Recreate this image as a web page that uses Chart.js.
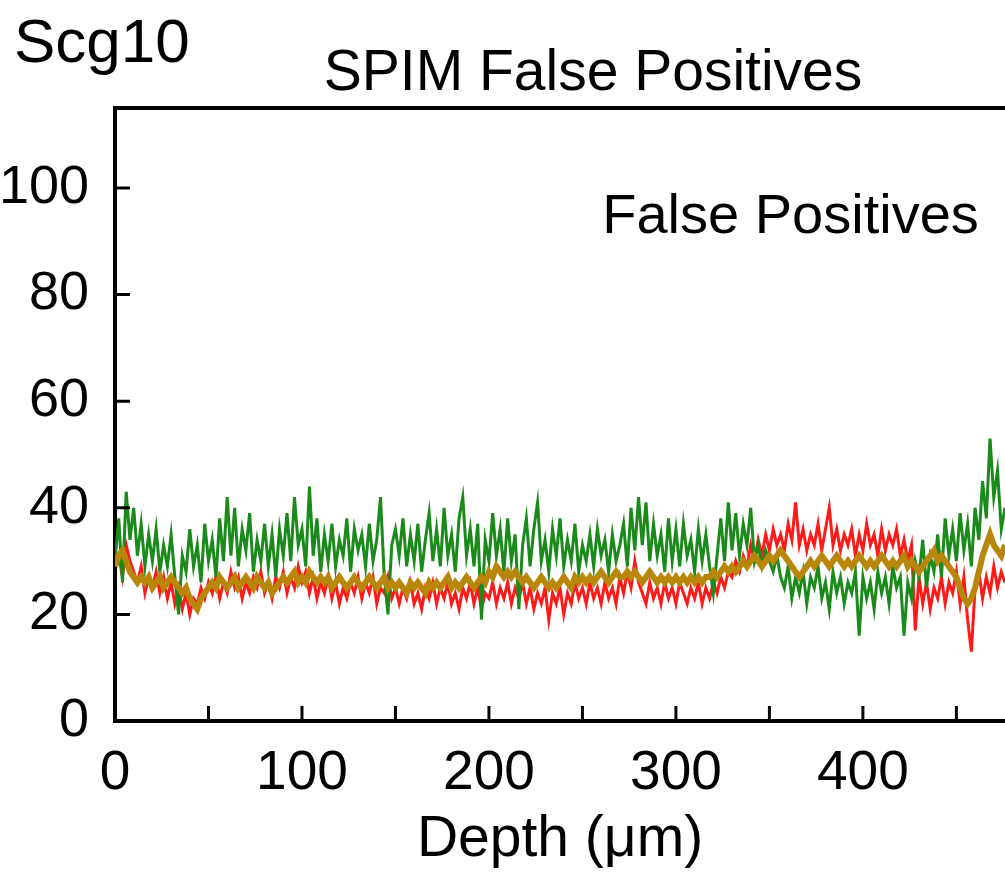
<!DOCTYPE html>
<html>
<head>
  <title>Scg10 SPIM False Positives</title>
  <script src="https://cdn.jsdelivr.net/npm/chart.js"></script>
  <style>
    body {
      margin: 0;
      background: white;
    }
    #wrap {
      width: 1005px;
      height: 878px;
      overflow: hidden;
    }
  </style>
</head>
<body>

  <div id="wrap">
    <canvas id="fpChart" width="1005" height="878"></canvas>
  </div>

  <script>
    // sampled every 2 um of depth
    const depthStep = 2;

    const greenFP = [
      30, 38, 26, 43, 34, 40,
      31, 37, 29, 35, 30, 36, 28, 33, 29, 35,
      27, 20, 31, 28, 36, 29, 33, 26, 37, 30,
      34, 27, 38, 30, 42, 31, 40, 29, 36, 32,
      39, 28, 34, 30, 37, 29, 35, 27, 36, 31,
      39, 30, 42, 33, 36, 29, 44, 31, 38, 28,
      35, 30, 37, 29, 34, 31, 38, 28, 36, 32,
      35, 29, 37, 30, 34, 42, 27, 20, 33, 36,
      31, 38, 29, 35, 30, 37, 28, 34, 39, 30,
      36, 29, 40, 31, 35, 28, 38, 42, 31, 36,
      29, 37, 19, 34, 30, 39, 31, 36, 28, 38,
      30, 35, 21, 33, 38, 29, 36, 41, 30, 34,
      28, 36, 31, 38, 29, 34, 30, 37, 28, 33,
      30, 35, 29, 36, 31, 34, 28, 35, 30, 33,
      37, 29, 40, 32, 42, 33, 41, 30, 37, 31,
      35, 28, 38, 30, 36, 29, 37, 31, 34, 28,
      36, 30, 35, 29, 24, 31, 38, 30, 41, 32,
      39, 31, 37, 33, 40, 30, 33, 29, 32, 30,
      28, 31, 27, 25, 29, 23, 27, 24, 28, 22,
      27, 25, 29, 23, 26, 21, 28, 24, 27, 22,
      26, 24, 28, 16, 27, 23, 26, 21, 28, 24,
      27, 22, 29, 25, 27, 16, 26, 23, 30, 27,
      34, 25, 31, 28, 35, 27, 38, 31, 36, 30,
      39, 32, 37, 29, 40, 34, 45, 38, 53, 42,
      47, 36, 40
    ];

    const redFP = [
      29, 31, 27, 33, 30, 28,
      26, 29, 24, 27, 25, 28, 24, 27, 23, 26,
      22, 25, 21, 24, 20, 23, 22, 25, 23, 26,
      24, 27, 23, 26, 24, 28, 25, 27, 23, 26,
      24, 27, 25, 28, 24, 26, 23, 27, 25, 28,
      24, 27, 25, 29, 26, 28, 24, 27, 23, 26,
      24, 27, 23, 26, 22, 25, 23, 26, 24, 27,
      23, 26, 24, 27, 22, 25, 24, 27, 23, 25,
      22, 25, 23, 26, 22, 24, 21, 25, 23, 26,
      22, 25, 23, 26, 22, 24, 21, 25, 23, 26,
      22, 25, 21, 24, 23, 26, 22, 25, 23, 26,
      22, 25, 23, 26, 22, 25, 21, 24, 22, 25,
      19, 24, 22, 25, 20, 24, 22, 26, 23, 25,
      22, 26, 23, 25, 22, 26, 23, 25, 22, 27,
      24, 28, 25, 30, 26, 24, 22, 26, 23, 25,
      22, 26, 23, 25, 22, 26, 24, 22, 25, 23,
      26, 22, 25, 23, 26, 24, 27, 25, 28, 27,
      30, 28, 31, 29, 33, 30, 34, 31, 35, 32,
      36, 33, 35, 32, 37, 34, 41, 33, 36, 32,
      35, 33, 37, 32, 36, 40, 33, 36, 32, 35,
      33, 36, 31, 35, 32, 37, 33, 35, 31, 36,
      32, 35, 33, 36, 31, 34, 30, 33, 17, 27,
      22, 26, 21, 25, 23, 27, 22, 26, 24, 28,
      22, 27, 19, 13, 25, 28, 23, 27, 24, 29,
      25, 28, 26
    ];

    const goldFP = [
      29, 31, 32, 30, 28, 27,
      26, 27, 26, 27, 25, 26, 27, 25, 26, 27,
      26, 25, 24, 25, 23, 22, 21, 23, 24, 25,
      26, 25, 27, 26, 25, 26, 27, 25, 26, 27,
      26, 25, 27, 26, 25, 26, 24, 25, 26, 27,
      26, 27, 28, 26, 27, 26, 28, 27, 26, 27,
      26, 27, 25, 26, 27, 26, 25, 26, 27, 26,
      25, 26, 27, 26, 25, 26, 27, 25, 26, 25,
      26, 25, 24, 26, 25, 26, 25, 24, 26, 25,
      26, 25, 26, 27, 25, 26, 25, 26, 27, 26,
      25, 26, 27, 26, 28, 27, 29, 28, 27, 28,
      27, 28, 27, 26, 27, 26, 25, 26, 27, 26,
      25, 26, 25, 26, 27, 26, 25, 27, 26, 27,
      26, 27, 26, 27, 28, 27, 26, 27, 28, 27,
      27, 28, 27, 28, 27, 26, 27, 28, 27, 26,
      27, 26, 27, 26, 27, 26, 27, 26, 27, 26,
      27, 26, 27, 27, 28, 27, 28, 29, 28, 29,
      28, 29, 30, 29, 30, 31, 30, 29, 30, 31,
      30, 31, 32, 31, 30, 29, 28, 27, 28, 29,
      30, 29, 30, 31, 30, 29, 30, 31, 30, 29,
      30, 29, 30, 31, 30, 29, 30, 29, 30, 31,
      30, 29, 30, 29, 30, 31, 29, 30, 29, 28,
      29, 30, 31, 32, 30, 31, 30, 29, 28, 27,
      25, 23, 22, 23, 25, 28, 31, 33, 35, 33,
      32, 31, 33
    ];

    const yTicks = [0, 20, 40, 60, 80, 100];
    const xTickLabels = [0, 100, 200, 300, 400];

    const depths = greenFP.map((_, i) => i * depthStep);
    const toPoints = arr => arr.map((v, i) => ({ x: depths[i], y: v }));

    const fontFamily = "'Liberation Sans', Arial, sans-serif";

    // frame, inward tick marks and the text labels
    const decorations = {
      id: "decorations",
      afterDraw(chart) {
        const ctx = chart.ctx;
        const area = chart.chartArea;
        const xs = chart.scales.x;
        const ys = chart.scales.y;
        ctx.save();
        ctx.strokeStyle = "#000";
        ctx.lineWidth = 4;
        ctx.beginPath();
        ctx.moveTo(area.left - 2, area.top);
        ctx.lineTo(area.right, area.top);
        ctx.stroke();

        ctx.lineWidth = 3;
        ctx.beginPath();
        xs.ticks.forEach(t => {
          if (t.value === 0) return;
          const px = xs.getPixelForValue(t.value);
          ctx.moveTo(px, area.bottom);
          ctx.lineTo(px, area.bottom - 15);
        });
        ys.ticks.forEach(t => {
          if (t.value === 0) return;
          const py = ys.getPixelForValue(t.value);
          ctx.moveTo(area.left, py);
          ctx.lineTo(area.left + 15, py);
        });
        ctx.stroke();

        ctx.fillStyle = "#000";
        ctx.textBaseline = "alphabetic";
        ctx.font = "62px " + fontFamily;
        ctx.textAlign = "left";
        ctx.fillText("Scg10", 14, 62);

        ctx.font = "57px " + fontFamily;
        ctx.textAlign = "center";
        ctx.fillText("SPIM False Positives", 593, 90);

        ctx.font = "56px " + fontFamily;
        ctx.textAlign = "right";
        ctx.textBaseline = "middle";
        ctx.fillText("False Positives", xs.getPixelForValue(462), ys.getPixelForValue(94.5));
        ctx.restore();
      }
    };

    const ctx = document.getElementById("fpChart").getContext("2d");
    const fpChart = new Chart(ctx, {
      type: "line",
      data: {
        datasets: [
          {
            label: "average",
            data: toPoints(goldFP),
            borderColor: "#b8860b",
            borderWidth: 6,
            pointRadius: 0,
            tension: 0
          },
          {
            label: "green",
            data: toPoints(greenFP),
            borderColor: "#1a8a1a",
            borderWidth: 3,
            pointRadius: 0,
            tension: 0
          },
          {
            label: "red",
            data: toPoints(redFP),
            borderColor: "#ff1a1a",
            borderWidth: 3,
            pointRadius: 0,
            tension: 0
          }
        ]
      },
      plugins: [decorations],
      options: {
        responsive: false,
        animation: false,
        layout: {
          padding: { top: 108, left: 0, right: 0, bottom: 0 }
        },
        plugins: {
          legend: { display: false },
          title: { display: false },
          tooltip: { enabled: false }
        },
        scales: {
          x: {
            type: "linear",
            min: 0,
            max: 476,
            grid: { display: false, drawTicks: false },
            border: { display: true, color: "#000", width: 4 },
            afterFit: s => { s.height = 157; },
            ticks: {
              stepSize: 50,
              includeBounds: false,
              autoSkip: false,
              maxRotation: 0,
              padding: 20,
              color: "#000",
              font: { family: fontFamily, size: 55 },
              callback: v => xTickLabels.includes(v) ? String(v) : ""
            },
            title: {
              display: true,
              text: "Depth (μm)",
              color: "#000",
              font: { family: fontFamily, size: 57 },
              padding: { top: 0, bottom: 4 }
            }
          },
          y: {
            min: 0,
            max: 115,
            grid: { display: false, drawTicks: false },
            border: { display: true, color: "#000", width: 4 },
            afterFit: s => { s.width = 115; },
            ticks: {
              stepSize: 20,
              includeBounds: false,
              padding: 26,
              color: "#000",
              font: { family: fontFamily, size: 54 },
              callback: v => yTicks.includes(v) ? String(v) : ""
            }
          }
        }
      }
    });
  </script>

</body>
</html>
